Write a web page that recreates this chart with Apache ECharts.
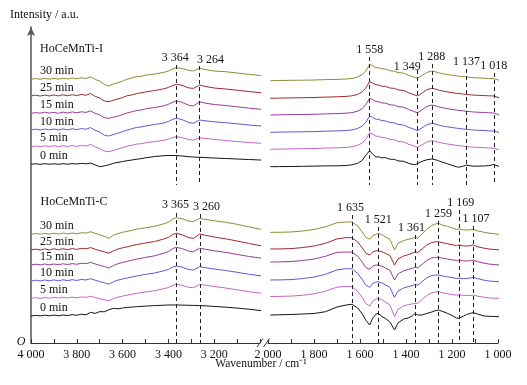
<!DOCTYPE html>
<html>
<head>
<meta charset="utf-8">
<script src="https://cdn.jsdelivr.net/npm/echarts@6/dist/echarts.min.js"></script>
<style>
  html, body { margin: 0; padding: 0; background: #fff; }
  #chart { width: 527px; height: 385px; }
</style>
</head>
<body>
<div id="chart"></div>
<script>
// ---- data ----
const timeLabels = ['30 min', '25 min', '15 min', '10 min', '5 min', '0 min'];
const sampleNames = ['HoCeMnTi-I', 'HoCeMnTi-C'];

// wavenumbers (cm-1) sampled on each side of the axis break
const wnLeft = [4000, 3980, 3960, 3940, 3920, 3900, 3880, 3860, 3840, 3820, 3800, 3780, 3760, 3740, 3720, 3700, 3680, 3660, 3640, 3620,
  3600, 3580, 3560, 3540, 3520, 3500, 3460, 3420, 3400, 3380, 3364, 3340, 3310, 3290, 3264, 3240, 3200, 3150, 3100, 3050, 3000, 2990];
const wnRight = [1990, 1950, 1900, 1850, 1800, 1750, 1700, 1660, 1635, 1610, 1590, 1575, 1558, 1545, 1530, 1521, 1505, 1490, 1470, 1450,
  1435, 1410, 1390, 1370, 1361, 1349, 1330, 1310, 1288, 1270, 1259, 1240, 1220, 1200, 1180, 1169, 1150, 1137, 1120, 1107, 1090, 1060,
  1040, 1018, 1000, 985];

// baseline of each trace (a.u.), order 30, 25, 15, 10, 5, 0 min
const baseI = [263.7, 247, 229.7, 213, 196.3, 178.7];
const baseC = [108.7, 93, 78, 62, 44.7, 27];

// HoCeMnTi-I, intensity relative to baseline
const specILeft = [
  [0, 0.8, 0, 1, 0.1, 0.9, 0.2, 1.1, 0.3, 1.3, 0.5, 1.5, 0.8, 2.6, -0.2, -1.7, -5.2, -6.7, -4.7, -3.4, -1.8, 0.2, 1.2, 2.6, 3, 4.1, 5.3, 7, 8.3, 10.5, 11.6, 10.8, 8.8, 8.3, 11, 9.8, 8.3, 7.6, 6.3, 5, 3.8, 3.6],
  [0, 0.9, -0.1, 1, 0, 1.1, 0.1, 1.2, 0.2, 1.3, 0.4, 1.6, 0.7, 2.5, -0.3, -2, -5, -5.7, -4.2, -3, -1.5, 0.3, 1, 2.4, 3.2, 4, 5.5, 7.2, 8.5, 10.6, 11.7, 10.6, 8, 7.7, 11, 9.6, 8, 7, 5.8, 4.5, 3.4, 3.3],
  [0, 0.7, 0.1, 1.1, 0.2, 0.9, 0, 1.2, 0.3, 1.4, 0.6, 1.5, 0.9, 2.4, 0, -1.5, -4.4, -5, -3.8, -2.8, -1.3, 0.4, 1.5, 2.7, 3.3, 4.4, 5.8, 7.5, 9, 11.2, 12.3, 11, 8, 7.3, 11.6, 10.2, 8.8, 7.8, 6.5, 5.2, 4.1, 4],
  [0, 0.8, 0, 1, 0.2, 1, 0.1, 1.1, 0.2, 1.2, 0.4, 1.4, 0.8, 2.4, -0.4, -2, -5.2, -6, -4.5, -3.2, -1.6, 0, 1.2, 2.5, 3, 4, 5.5, 7, 8.6, 10.8, 11.7, 10.3, 7.4, 6.7, 10, 9.2, 8.2, 7.3, 6.2, 5, 4.1, 4],
  [0, 0.7, -0.1, 0.9, 0.1, 1, 0, 1, 0.2, 1.2, 0.3, 1.3, 0.6, 2.2, -0.3, -1.8, -4.4, -5, -3.6, -2.4, -1, 0.5, 1.4, 2.5, 3, 3.9, 5.1, 6.4, 7.6, 9.3, 10, 9.1, 7, 6.7, 9, 8.3, 7.3, 6.2, 5.2, 4.2, 3.5, 3.4],
  [0, 0.5, 0, 0.6, 0.1, 0.5, 0, 0.6, 0.1, 0.7, 0.3, 0.9, 0.5, 1.2, -0.6, -2.4, -1.6, -0.5, 1, 1.9, 2.8, 3.6, 4.3, 5, 5.6, 6.5, 7.8, 8.6, 8.8, 8.8, 8.7, 8.3, 7.6, 7.3, 7, 6.7, 6.3, 5.8, 5.3, 4.8, 4.3, 4.3]
];
const specIRight = [
  [-1.4, -1.2, -1, -0.9, -0.7, -0.3, -0.1, 0.3, 0.8, 2.3, 4.8, 8.3, 14.8, 13.6, 11.5, 11.7, 10.5, 10.2, 8.6, 8.1, 6.7, 6.2, 4.1, 2.6, 1.8, 1, 3.8, 6.8, 8.3, 7.4, 6.5, 5.6, 4.7, 4.1, 3.4, 3.1, 2.6, 2.3, 1.9, 1.6, 1.4, 1.1, 0.8, 0.6, -0.6, -2],
  [-2.3, -2.1, -1.9, -1.7, -1.5, -1.1, -0.8, -0.4, 0.2, 1.6, 4.2, 8, 14.3, 13.1, 11, 11.2, 9.8, 9.7, 8, 7.6, 6.1, 5.6, 3.4, 1.8, 0.9, 0, 3, 6.2, 7.7, 6.9, 6, 5, 4.1, 3.4, 2.7, 2.4, 1.9, 1.6, 1.2, 0.9, 0.7, 0.4, 0.2, 0, -1.4, -3],
  [-1.7, -1.5, -1.3, -1.2, -1, -0.6, -0.3, 0.1, 0.7, 2.1, 4.7, 8.5, 15, 13.7, 11.6, 11.8, 10.4, 10.2, 8.5, 8.1, 6.6, 6.1, 3.9, 2.3, 1.4, 0.6, 3.5, 6.8, 8.3, 7.4, 6.5, 5.5, 4.6, 3.9, 3.2, 2.9, 2.4, 2, 1.6, 1.3, 1.1, 0.8, 0.5, 0.3, -1.1, -2.7],
  [-2.3, -2.1, -1.9, -1.8, -1.6, -1.2, -0.9, -0.5, 0.1, 1.5, 4, 7.6, 14, 12.7, 10.6, 10.8, 9.4, 9.2, 7.5, 7.1, 5.6, 5, 2.8, 1.2, 0.3, -0.7, 2.2, 5.2, 6.7, 5.9, 5, 4, 3.2, 2.5, 1.8, 1.5, 1, 0.7, 0.3, 0, -0.2, -0.5, -0.8, -1, -2.2, -3.3],
  [-2.6, -2.4, -2.2, -2, -1.8, -1.4, -1.1, -0.7, -0.1, 1.3, 3.8, 7.4, 14, 12.6, 10.4, 10.6, 9.2, 9, 7.3, 6.9, 5.4, 4.8, 2.6, 1.1, 0.2, -0.6, 2, 4.6, 6, 5.3, 4.5, 3.5, 2.7, 2, 1.3, 1, 0.5, 0.2, -0.2, -0.5, -0.7, -1, -1.3, -1.5, -2.8, -4],
  [-2.4, -2.3, -2.2, -2, -1.8, -1.6, -1.5, -1.2, -0.5, 1, 4, 9, 13.6, 10.3, 7.2, 7.6, 6.4, 6.7, 5.1, 4.9, 3.4, 3, 1.1, -0.2, -0.4, 0.8, 3, 4.5, 5.3, 4.5, 3.5, 2, 0.5, -1, -2.5, -2.9, -1.8, -0.8, -1.5, -1.9, -1.8, -1.7, -1.3, -0.2, -1.8, -2.4]
];

// HoCeMnTi-C, intensity relative to baseline
const specCLeft = [
  [0, 0.8, 0.1, 1, 0.2, 1.1, 0.3, 1.2, 0.4, 1.3, 0.5, 1.6, 1.2, 2.6, 1, -0.5, -2, -4, -1, 0.8, 2, 3, 4, 5, 5.8, 6.5, 8, 10.5, 12, 15.5, 16.6, 15.5, 13, 12.8, 15.8, 15, 13.5, 12, 10, 7.5, 5.2, 4.8],
  [0, 0.9, 0, 1.1, 0.1, 1.2, 0.2, 1.3, 0.3, 1.4, 0.6, 1.7, 1.1, 2.4, 0.8, -0.6, -1.8, -3.3, -0.8, 1, 2.2, 3.2, 4.3, 5.3, 6.2, 7, 8.5, 11, 12.6, 15.7, 16.7, 15.2, 12.2, 11.7, 16, 14.8, 13, 11.2, 9, 6.6, 4.4, 4],
  [0, 0.8, 0.1, 1, 0.2, 1, 0.3, 1.2, 0.5, 1.4, 0.7, 1.8, 1.3, 2.6, 1.1, -0.3, -1.5, -3, -0.5, 1.3, 2.6, 3.6, 4.8, 5.8, 6.7, 7.6, 9.2, 11.8, 13.4, 16.6, 17.7, 16.4, 13.8, 13.3, 16.7, 15.8, 14.2, 12.6, 10.6, 8.6, 7, 6.7],
  [0, 0.8, 0, 1, 0.2, 1.1, 0.2, 1.2, 0.4, 1.3, 0.5, 1.6, 1, 2.3, 0.8, -0.6, -1.8, -3.2, -0.8, 0.9, 2, 3, 4, 5, 5.8, 6.6, 8, 10.2, 11.6, 14, 15, 13.8, 11.4, 11, 14.3, 13.4, 12, 10.5, 8.7, 6.8, 5.3, 5],
  [0, 0.7, -0.1, 0.9, 0.1, 1, 0.2, 1.1, 0.3, 1.2, 0.4, 1.4, 0.9, 2.1, 0.7, -0.4, -1.4, -2.5, -0.3, 1.2, 2.2, 3.1, 4, 4.9, 5.6, 6.3, 7.6, 9.6, 10.8, 13, 14, 12.9, 10.9, 10.6, 14, 13.2, 11.8, 10.3, 8.5, 6.7, 5.2, 5],
  [0, 0.6, 0.1, 0.8, 0.2, 0.9, 0.3, 1, 0.5, 1.3, 0.8, 1.8, 1.2, 3.7, 2.6, 4.4, 4.2, 6.2, 7.7, 7.2, 8, 8.6, 8.9, 9.3, 9.6, 9.9, 10.4, 10.8, 11, 11, 11, 10.9, 10.7, 10.6, 10.4, 10.2, 9.6, 8.8, 7.9, 6.8, 5.5, 5.3]
];
const specCRight = [
  [2, 2, 2.3, 3.3, 4.8, 7.5, 11.6, 12.3, 12.4, 8.3, 2.3, -3, -5, -1.5, 0, 1, -0.5, -2.5, -5, -15.7, -9, -6.3, -5, -4, -3, -3.7, 0.5, 5, 9, 10.5, 11, 9, 8, 6.5, 5, 5.3, 4.5, 4.2, 4.5, 5, 3.5, 2, 1.2, 0.6, 0, -0.7],
  [1, 1.1, 1.4, 2.4, 4, 6.7, 11.1, 12.4, 12.3, 8, 2, -3.2, -5, -2, -0.8, -0.7, -1.7, -3.2, -5.5, -15, -9, -6, -4.6, -3, -1.7, -2.5, 1, 5, 7.5, 8.2, 8.3, 7.2, 6.3, 5.3, 4.4, 5, 4.2, 4, 4.3, 5, 3.3, 1.8, 1, 0.5, 0.2, 0],
  [3, 3.1, 3.5, 4.5, 6, 8.7, 12.7, 13, 12.9, 8.8, 2.8, -2.6, -4.3, -1.2, 0, 0, -1.2, -3, -5.3, -15, -8.8, -5.8, -4.4, -3.2, -2.3, -2.8, 0.6, 4.6, 7, 7.6, 7.7, 6.8, 6, 5.2, 4.5, 5, 4.2, 4, 4.4, 5, 3.4, 1.8, 1, 0.5, 0.2, 0],
  [1, 1.1, 1.4, 2.4, 4, 6.7, 11.1, 12.4, 12.1, 7.6, 1.4, -4.2, -6.3, -2.5, -1, -0.7, -2, -3.8, -6.3, -16.3, -10, -7, -5.6, -4.4, -3.5, -4.2, -0.6, 3.2, 5.5, 6, 6, 5, 4.2, 3.4, 2.6, 2.7, 2.4, 2.4, 3, 3.7, 2.4, 0.8, 0, -0.4, -0.6, -0.7],
  [1.8, 1.9, 2.2, 3, 4.5, 7.2, 11.1, 12, 11.7, 7, 0.8, -5.3, -7.7, -3, -0.8, 0, -1.5, -3.6, -6.6, -18.4, -11, -7.6, -6.3, -5.5, -5, -5.2, -1.2, 2.8, 5.6, 6.4, 6.6, 5.5, 4.6, 3.8, 3.2, 3.3, 2.9, 2.7, 2.9, 3.3, 2.2, 1, 0.4, 0.1, 0, 0],
  [1, 1.2, 1.5, 2, 2.5, 4.3, 9, 11, 11.7, 8, 2, -4, -9, -2.3, 2, 2.7, -0.5, -2.3, -6, -14, -7, -3, -2, 0.5, 2.7, 1, 1, 2.5, 4, 5.5, 6, 4.5, 2.7, 0.5, -2, -2.3, 0, 1.5, 2.7, 3.3, 2, 0, -0.3, -0.5, -0.7, -0.7]
];

const peaksI = [3364, 3264, 1558, 1349, 1288, 1137, 1018];
const peaksC = [3365, 3260, 1635, 1521, 1361, 1259, 1169, 1107];
const tickLabelsLeft = [4000, 3800, 3600, 3400, 3200];
const tickLabelsRight = [2000, 1800, 1600, 1400, 1200, 1000];

// ---- look ----
const colors = ['#8c8c38', '#a0282c', '#983a9c', '#5a5ad4', '#c864c8', '#141414'];
const FONT = '"Liberation Serif", "Times New Roman", serif';
const TEXT = '#111';
const GRID_TOP = 27, GRID_H = 316;
const toY = py => GRID_TOP + GRID_H - py;   // pixel row -> intensity

// peak marker layout: [label dx, label row, dashed top row, dashed bottom row]
const peakLayoutI = [[-1.5, 58, 65, 185], [11, 59.5, 66, 185], [0, 50, 57, 185], [-10.5, 67, 70, 185], [0, 57, 64, 185], [0, 62, 69, 185], [0, 66, 73, 185]];
const peakLayoutC = [[-1, 205, 213, 343], [6, 206.7, 214, 343], [-1.5, 208, 215, 343], [0, 220, 227, 343], [-3.5, 228, 235, 343], [0, 214, 221, 343], [1.5, 203, 210, 343], [2.5, 219, 226, 343]];

function fmtWn(v) {
  const s = String(v);
  return s.length > 3 ? s.slice(0, -3) + ' ' + s.slice(-3) : s;
}

const chart = echarts.init(document.getElementById('chart'));
const series = [];

function addPanel(base, leftSet, rightSet) {
  for (let i = 0; i < timeLabels.length; i++) {
    const common = {
      type: 'line', symbol: 'none', showSymbol: false, clip: false, silent: true, animation: false,
      lineStyle: { color: colors[i], width: 1 }, itemStyle: { color: colors[i] }
    };
    series.push(Object.assign({}, common, {
      xAxisIndex: 0, yAxisIndex: 0,
      data: wnLeft.map((w, k) => [w, base[i] + leftSet[i][k]]),
      markPoint: {
        symbol: 'circle', symbolSize: 0, silent: true, animation: false,
        data: [{
          coord: [4000, base[i]],
          label: { show: true, formatter: timeLabels[i], position: 'inside', align: 'left', offset: [9, -8.5],
            color: TEXT, fontFamily: FONT, fontSize: 12 }
        }]
      }
    }));
    series.push(Object.assign({}, common, {
      xAxisIndex: 1, yAxisIndex: 1,
      data: wnRight.map((w, k) => [w, base[i] + rightSet[i][k]])
    }));
  }
}
addPanel(baseI, specILeft, specIRight);
addPanel(baseC, specCLeft, specCRight);

// dashed peak markers, one helper series per side of the break
[0, 1].forEach(g => {
  const lines = [], pts = [];
  [[peaksI, peakLayoutI], [peaksC, peakLayoutC]].forEach(([pk, lay]) => {
    pk.forEach((w, j) => {
      if ((w > 2500) !== (g === 0)) return;
      const [dx, ly, top, bot] = lay[j];
      lines.push([{ coord: [w, toY(top)] }, { coord: [w, toY(bot)] }]);
      pts.push({ coord: [w, toY(ly)], label: { offset: [dx, 0], formatter: fmtWn(w) } });
    });
  });
  series.push({
    type: 'line', xAxisIndex: g, yAxisIndex: g, data: [], silent: true, animation: false,
    markLine: {
      symbol: ['none', 'none'], silent: true, animation: false, label: { show: false },
      lineStyle: { type: [4, 3], color: '#222', width: 1 }, data: lines
    },
    markPoint: {
      symbol: 'circle', symbolSize: 0, silent: true, animation: false,
      label: { show: true, position: 'inside', color: TEXT, fontFamily: FONT, fontSize: 12 },
      data: pts
    }
  });
});

const xAxisBase = {
  type: 'value', inverse: true, interval: 100,
  axisLine: { onZero: false, lineStyle: { color: '#333', width: 1 } },
  axisTick: { inside: true, length: 4, lineStyle: { color: '#333' } },
  splitLine: { show: false }
};

const option = {
  animation: false,
  grid: [
    { left: 31, top: GRID_TOP, width: 229, height: GRID_H },
    { left: 268, top: GRID_TOP, width: 230, height: GRID_H }
  ],
  xAxis: [
    Object.assign({}, xAxisBase, {
      gridIndex: 0, min: 3000, max: 4000,
      axisLabel: { margin: 6, color: TEXT, fontFamily: FONT, fontSize: 12,
        formatter: v => tickLabelsLeft.includes(v) ? fmtWn(v) : '' }
    }),
    Object.assign({}, xAxisBase, {
      gridIndex: 1, min: 1000, max: 2000,
      axisLabel: { margin: 6, color: TEXT, fontFamily: FONT, fontSize: 12,
        formatter: v => tickLabelsRight.includes(v) ? fmtWn(v) : '' }
    })
  ],
  yAxis: [
    {
      gridIndex: 0, type: 'value', min: 0, max: GRID_H,
      axisLine: { show: true, symbol: ['none', 'arrow'], symbolSize: [6, 9], lineStyle: { color: '#555', width: 1.5 } },
      axisTick: { show: false }, axisLabel: { show: false }, splitLine: { show: false }
    },
    { gridIndex: 1, type: 'value', min: 0, max: GRID_H, show: false }
  ],
  series: series,
  graphic: [
    { type: 'text', x: 10, y: 15, style: { text: 'Intensity / a.u.', fill: TEXT, fontFamily: FONT, fontSize: 12, verticalAlign: 'middle' } },
    { type: 'text', x: 40, y: 49.3, style: { text: sampleNames[0], fill: TEXT, fontFamily: FONT, fontSize: 12, verticalAlign: 'middle' } },
    { type: 'text', x: 40.5, y: 201.7, style: { text: sampleNames[1], fill: TEXT, fontFamily: FONT, fontSize: 12, verticalAlign: 'middle' } },
    { type: 'text', x: 21, y: 341.5, style: { text: 'O', fill: TEXT, fontFamily: FONT, fontSize: 12, fontStyle: 'italic', align: 'center', verticalAlign: 'middle' } },
    { type: 'text', x: 261, y: 364, style: { text: 'Wavenumber / cm\u207B\u00B9', fill: TEXT, fontFamily: FONT, fontSize: 11.5, align: 'center', verticalAlign: 'middle' } },
    { type: 'line', shape: { x1: 257, y1: 347, x2: 263, y2: 338.5 }, style: { stroke: '#333', lineWidth: 1 } },
    { type: 'line', shape: { x1: 263.5, y1: 347, x2: 269.5, y2: 338.5 }, style: { stroke: '#333', lineWidth: 1 } }
  ]
};

chart.setOption(option);
</script>
</body>
</html>
